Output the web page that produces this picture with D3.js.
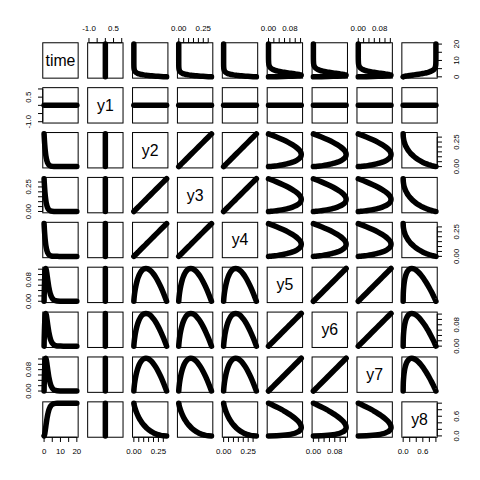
<!DOCTYPE html>
<html><head><meta charset="utf-8">
<script src="https://cdn.jsdelivr.net/npm/d3@7"></script>
<style>body{margin:0;background:#fff}</style>
</head><body><div id="chart"></div>
<script>
// ---- data ----
const time = [0,0.1,0.2,0.3,0.4,0.5,0.6,0.7,0.8,0.9,1,1.2,1.4,1.6,1.8,2,2.25,2.5,2.75,3,3.5,4,4.5,5,6,7,8,10,12,14,16,18,20];
const y1 = [0,0,0,0,0,0,0,0,0,0,0,0,0,0,0,0,0,0,0,0,0,0,0,0,0,0,0,0,0,0,0,0,0];
const y2 = [0.3333,0.3016,0.2729,0.2469,0.2234,0.2022,0.1829,0.1655,0.1498,0.1355,0.1226,0.1004,0.0822,0.0673,0.0551,0.0451,0.0351,0.0274,0.0213,0.0166,0.0101,0.0061,0.0037,0.0022,0.0008,0.0003,0.0001,0,0,0,0,0,0];
const y3 = [0.3333,0.3016,0.2729,0.2469,0.2234,0.2022,0.1829,0.1655,0.1498,0.1355,0.1226,0.1004,0.0822,0.0673,0.0551,0.0451,0.0351,0.0274,0.0213,0.0166,0.0101,0.0061,0.0037,0.0022,0.0008,0.0003,0.0001,0,0,0,0,0,0];
const y4 = [0.3333,0.3016,0.2729,0.2469,0.2234,0.2022,0.1829,0.1655,0.1498,0.1355,0.1226,0.1004,0.0822,0.0673,0.0551,0.0451,0.0351,0.0274,0.0213,0.0166,0.0101,0.0061,0.0037,0.0022,0.0008,0.0003,0.0001,0,0,0,0,0,0];
const y5 = [0,0.0302,0.0546,0.0741,0.0894,0.1011,0.1098,0.1159,0.1198,0.1220,0.1226,0.1205,0.1151,0.1077,0.0992,0.0902,0.0790,0.0684,0.0586,0.0498,0.0352,0.0244,0.0167,0.0112,0.0050,0.0021,0.0009,0.0002,0,0,0,0,0];
const y6 = [0,0.0302,0.0546,0.0741,0.0894,0.1011,0.1098,0.1159,0.1198,0.1220,0.1226,0.1205,0.1151,0.1077,0.0992,0.0902,0.0790,0.0684,0.0586,0.0498,0.0352,0.0244,0.0167,0.0112,0.0050,0.0021,0.0009,0.0002,0,0,0,0,0];
const y7 = [0,0.0302,0.0546,0.0741,0.0894,0.1011,0.1098,0.1159,0.1198,0.1220,0.1226,0.1205,0.1151,0.1077,0.0992,0.0902,0.0790,0.0684,0.0586,0.0498,0.0352,0.0244,0.0167,0.0112,0.0050,0.0021,0.0009,0.0002,0,0,0,0,0];
const y8 = [0,0.0047,0.0175,0.0369,0.0616,0.0902,0.1219,0.1558,0.1912,0.2275,0.2642,0.3374,0.4082,0.4751,0.5372,0.5940,0.6575,0.7127,0.7603,0.8009,0.8641,0.9084,0.9389,0.9596,0.9826,0.9927,0.9970,0.9995,0.9999,1,1,1,1];

const varNames = ["time","y1","y2","y3","y4","y5","y6","y7","y8"];
const series = [time,y1,y2,y3,y4,y5,y6,y7,y8];

// tick values and the labels R printed (empty = label skipped for overlap)
const timeTicks = [0,5,10,15,20];           const timeTickLabels = ["0","","10","","20"];
const y1Ticks = [-1,-0.5,0,0.5,1];          const y1TickLabels = ["-1.0","","","0.5",""];
const y234Ticks = [0,0.05,0.1,0.15,0.2,0.25,0.3]; const y234TickLabels = ["0.00","","","","","0.25",""];
const y567Ticks = [0,0.02,0.04,0.06,0.08,0.1,0.12]; const y567TickLabels = ["0.00","","","","0.08","",""];
const y8Ticks = [0,0.2,0.4,0.6,0.8,1];      const y8TickLabels = ["0.0","","","0.6","",""];

const ticksFor = [timeTicks,y1Ticks,y234Ticks,y234Ticks,y234Ticks,y567Ticks,y567Ticks,y567Ticks,y8Ticks];
const labelsFor = [timeTickLabels,y1TickLabels,y234TickLabels,y234TickLabels,y234TickLabels,y567TickLabels,y567TickLabels,y567TickLabels,y8TickLabels];

// ---- layout (R pairs geometry) ----
const W = 480, H = 480;
const LINE = 9.504;
const OMA = 4 * LINE;
const n = varNames.length;
const FIG = (W - 2 * OMA) / n;
const PW = FIG - LINE;
const FONT = "'Liberation Sans', Arial, Helvetica, sans-serif";
const AXFS = 7.92, LABFS = 15.84, TICK = 0.5 * LINE;

const domains = series.map(s => {
  let [lo, hi] = d3.extent(s);
  if (lo === hi) { if (lo === 0) { lo = -1; hi = 1; } else { lo -= 0.4*Math.abs(lo); hi += 0.4*Math.abs(hi); } }
  const r = hi - lo;
  return [lo - 0.04 * r, hi + 0.04 * r];
});
const xs = domains.map(d => d3.scaleLinear().domain(d).range([0, PW]));
const ys = domains.map(d => d3.scaleLinear().domain(d).range([PW, 0]));

const svg = d3.select("#chart").append("svg").attr("width", W).attr("height", H)
  .style("font-family", FONT);
svg.append("rect").attr("width", W).attr("height", H).attr("fill", "#fff");

const px = j => OMA + j * FIG + LINE / 2;

for (let i = 0; i < n; i++) {
  for (let j = 0; j < n; j++) {
    const g = svg.append("g").attr("transform", `translate(${px(j)},${px(i)})`);
    if (i === j) {
      g.append("text").attr("x", PW / 2).attr("y", PW / 2 + 5.5)
        .attr("text-anchor", "middle").attr("font-size", LABFS).attr("fill", "#000")
        .text(varNames[i]);
    } else {
      const pts = time.map((_, k) => [series[j][k], series[i][k]]);
      const line = d3.line().x(d => xs[j](d[0])).y(d => ys[i](d[1])).curve(d3.curveCatmullRom.alpha(0.5));
      g.append("path").attr("d", line(pts)).attr("fill", "none").attr("stroke", "#000")
        .attr("stroke-width", 5.5).attr("stroke-linecap", "round").attr("stroke-linejoin", "round");
    }
    g.append("rect").attr("x", 0).attr("y", 0).attr("width", PW).attr("height", PW)
      .attr("fill", "none").attr("stroke", "#000").attr("stroke-width", 1);

    // axes, R pairs alternation
    const tv = ticksFor[j], tl = labelsFor[j];
    if (i === n - 1 && j % 2 === 0) { // bottom
      const s = xs[j];
      g.append("line").attr("x1", s(tv[0])).attr("x2", s(tv[tv.length-1])).attr("y1", PW).attr("y2", PW).attr("stroke", "#000");
      tv.forEach((v, k) => {
        g.append("line").attr("x1", s(v)).attr("x2", s(v)).attr("y1", PW).attr("y2", PW + TICK).attr("stroke", "#000");
        if (tl[k]) g.append("text").attr("x", s(v)).attr("y", PW + 1.8 * LINE).attr("text-anchor", "middle").attr("font-size", AXFS).text(tl[k]);
      });
    }
    if (i === 0 && j % 2 === 1) { // top
      const s = xs[j];
      g.append("line").attr("x1", s(tv[0])).attr("x2", s(tv[tv.length-1])).attr("y1", 0).attr("y2", 0).attr("stroke", "#000");
      tv.forEach((v, k) => {
        g.append("line").attr("x1", s(v)).attr("x2", s(v)).attr("y1", 0).attr("y2", -TICK).attr("stroke", "#000");
        if (tl[k]) g.append("text").attr("x", s(v)).attr("y", -1.2 * LINE).attr("text-anchor", "middle").attr("font-size", AXFS).text(tl[k]);
      });
    }
    const tvy = ticksFor[i], tly = labelsFor[i];
    if (j === 0 && i % 2 === 1) { // left
      const s = ys[i];
      g.append("line").attr("y1", s(tvy[0])).attr("y2", s(tvy[tvy.length-1])).attr("x1", 0).attr("x2", 0).attr("stroke", "#000");
      tvy.forEach((v, k) => {
        g.append("line").attr("y1", s(v)).attr("y2", s(v)).attr("x1", 0).attr("x2", -TICK).attr("stroke", "#000");
        if (tly[k]) g.append("text").attr("transform", `translate(${-1.2 * LINE},${s(v)}) rotate(-90)`)
          .attr("text-anchor", "middle").attr("font-size", AXFS).text(tly[k]);
      });
    }
    if (j === n - 1 && i % 2 === 0) { // right
      const s = ys[i];
      g.append("line").attr("y1", s(tvy[0])).attr("y2", s(tvy[tvy.length-1])).attr("x1", PW).attr("x2", PW).attr("stroke", "#000");
      tvy.forEach((v, k) => {
        g.append("line").attr("y1", s(v)).attr("y2", s(v)).attr("x1", PW).attr("x2", PW + TICK).attr("stroke", "#000");
        if (tly[k]) g.append("text").attr("transform", `translate(${PW + 2.3 * LINE},${s(v)}) rotate(-90)`)
          .attr("text-anchor", "middle").attr("font-size", AXFS).text(tly[k]);
      });
    }
  }
}
</script></body></html>
